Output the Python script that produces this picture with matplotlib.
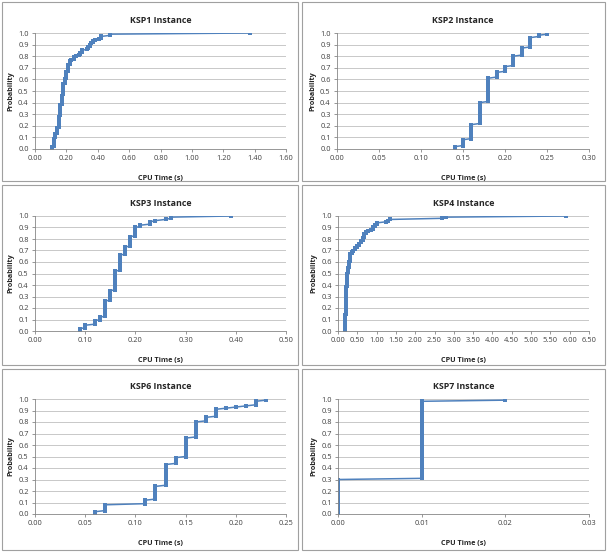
import matplotlib
matplotlib.use("Agg")
import matplotlib.pyplot as plt
import numpy as np
from matplotlib.patches import Rectangle

plt.rcParams['font.family'] = ['Open Sans', 'DejaVu Sans']

titles = ["KSP1 Instance", "KSP2 Instance", "KSP3 Instance",
          "KSP4 Instance", "KSP6 Instance", "KSP7 Instance"]

# distinct CPU times and number of runs at each time (100 runs per instance)
ksp1_times = [0.11, 0.12, 0.13, 0.14, 0.15, 0.16, 0.17, 0.18, 0.19, 0.20, 0.21, 0.22,
              0.23, 0.25, 0.26, 0.28, 0.29, 0.30, 0.33, 0.34, 0.35, 0.36, 0.37, 0.38,
              0.41, 0.42, 0.48, 1.37]
ksp1_counts = [2, 7, 4, 5, 10, 10, 8, 10, 4, 6, 6, 4,
               1, 2, 1, 1, 2, 2, 1, 2, 2, 1, 2, 1,
               1, 2, 2, 1]

ksp2_times = [0.14, 0.15, 0.16, 0.17, 0.18, 0.19, 0.20, 0.21, 0.22, 0.23, 0.24, 0.25]
ksp2_counts = [2, 6, 13, 19, 21, 5, 5, 9, 7, 9, 2, 2]

ksp3_times = [0.09, 0.10, 0.12, 0.13, 0.14, 0.15, 0.16, 0.17, 0.18, 0.19, 0.20, 0.21,
              0.23, 0.24, 0.26, 0.27, 0.39]
ksp3_counts = [2, 3, 4, 3, 14, 9, 17, 14, 7, 9, 8, 2, 3, 1, 1, 2, 1]

ksp4_times = [0.17, 0.18, 0.19, 0.20, 0.21, 0.22, 0.23, 0.24, 0.26, 0.28, 0.30, 0.32,
              0.35, 0.40, 0.45, 0.50, 0.55, 0.60, 0.65, 0.68, 0.72, 0.78, 0.85, 0.90,
              0.95, 1.00, 1.25, 1.30, 1.35, 2.70, 2.80, 5.90]
ksp4_counts = [3, 5, 6, 8, 8, 8, 7, 5, 5, 5, 4, 3,
               2, 1, 2, 2, 2, 2, 3, 3, 2, 1, 1, 2,
               2, 2, 1, 1, 1, 1, 1, 1]

ksp6_times = [0.06, 0.07, 0.11, 0.12, 0.13, 0.14, 0.15, 0.16, 0.17, 0.18, 0.19, 0.20,
              0.21, 0.22, 0.23]
ksp6_counts = [2, 6, 4, 12, 19, 6, 17, 14, 4, 7, 1, 1, 1, 4, 2]

ksp7_times = [0.00, 0.01, 0.02]
ksp7_counts = [30, 68, 2]

x_maxes = [1.6, 0.30, 0.50, 6.5, 0.25, 0.03]
x_steps = [0.2, 0.05, 0.1, 0.5, 0.05, 0.01]

series = [(ksp1_times, ksp1_counts), (ksp2_times, ksp2_counts), (ksp3_times, ksp3_counts),
          (ksp4_times, ksp4_counts), (ksp6_times, ksp6_counts), (ksp7_times, ksp7_counts)]

W, H = 607, 553
fig = plt.figure(figsize=(W / 100, H / 100), dpi=100)

# panel boxes (pixels): left, top, right, bottom
boxes = [(2, 2, 298, 181), (302, 2, 605, 181),
         (2, 185, 298, 365), (302, 185, 605, 365),
         (2, 369, 298, 550), (302, 369, 605, 550)]
# plot areas (pixels): x0, y_top, x1, y_bottom
areas = [(35, 33, 286, 149), (337, 33, 589, 149),
         (35, 216, 286, 331), (338, 216, 589, 331),
         (35, 399, 286, 514), (338, 399, 589, 514)]

blue = "#4F81BD"
for i, (tms, cnts) in enumerate(series):
    bl, bt, br, bb = boxes[i]
    fig.patches.append(Rectangle((bl / W, 1 - bb / H), (br - bl) / W, (bb - bt) / H,
                                 transform=fig.transFigure, fill=False,
                                 edgecolor="#A0A0A0", linewidth=0.8))
    x0, yt, x1, yb = areas[i]
    ax = fig.add_axes([x0 / W, 1 - yb / H, (x1 - x0) / W, (yb - yt) / H])
    xs = np.repeat(tms, cnts)
    ys = np.arange(1, len(xs) + 1) / len(xs)
    ax.plot(xs, ys, color=blue, linewidth=1.1, marker="s", markersize=2.2,
            markeredgewidth=0, markerfacecolor=blue)
    ax.set_xlim(0, x_maxes[i])
    ax.set_ylim(0, 1.0)
    xt = np.arange(0, x_maxes[i] + x_steps[i] / 2, x_steps[i])
    ax.set_xticks(xt)
    ax.set_xticklabels([f"{v:.2f}" for v in xt])
    yt_vals = np.arange(0, 1.05, 0.1)
    ax.set_yticks(yt_vals)
    ax.set_yticklabels([f"{v:.1f}" for v in yt_vals])
    ax.yaxis.grid(True, color="#BFBFBF", linewidth=0.6)
    ax.set_axisbelow(True)
    for s in ["top", "right"]:
        ax.spines[s].set_visible(False)
    for s in ["left", "bottom"]:
        ax.spines[s].set_color("#868686")
        ax.spines[s].set_linewidth(0.6)
    ax.tick_params(axis="both", labelsize=5.4, colors="#868686", labelcolor="#404040",
                   length=2.5, width=0.6, pad=2)
    ax.set_title(titles[i], fontsize=6.4, fontweight="bold", color="#262626", pad=7)
    ax.set_xlabel("CPU Time (s)", fontsize=5.2, fontweight="bold", color="#262626", labelpad=9)
    ax.set_ylabel("Probability", fontsize=5.2, fontweight="bold", color="#262626", labelpad=3)

fig.savefig("out.png", dpi=100)
